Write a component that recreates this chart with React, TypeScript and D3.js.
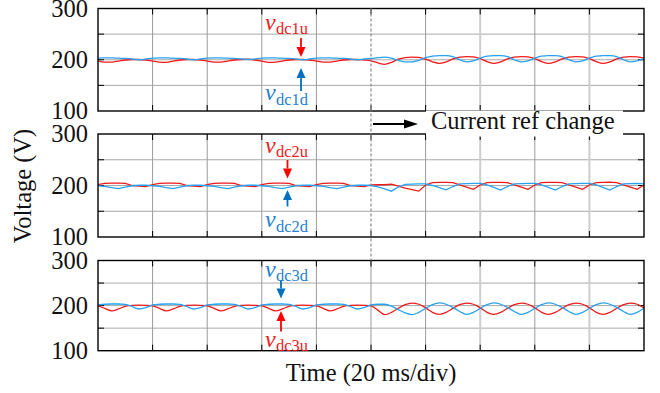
import React from 'react';
import * as d3 from 'd3';

// sample times (ms)
const TIME = [0,2.5,5,7.5,10,12.5,15,17.5,20,22.5,25,27.5,30,32.5,35,37.5,40,42.5,45,47.5,50,52.5,55,57.5,60,62.5,65,67.5,70,72.5,75,77.5,80,82.5,85,87.5,90,92.5,95,97.5,100,102.5,105,107.5,110,112.5,115,117.5,120,122.5,125,127.5,130,132.5,135,137.5,140,142.5,145,147.5,150,152.5,155,157.5,160,162.5,165,167.5,170,172.5,175,177.5,180,182.5,185,187.5,190,192.5,195,197.5,200];

const V_DC1U = [
  198,195.5,195.5,197.5,199.5,200.5,200.5,199.5,
  197.5,195.5,195,197.5,199.5,200.5,200.5,199.5,
  197.5,195.5,195.5,197.5,199.5,200.5,201,199.5,
  197.5,195,195.5,197.5,199.5,200.5,200.5,199.5,
  197.5,195.5,195.5,197.5,199.5,200.5,200.5,199.5,
  198,194,191,195,201,204,205,204.5,
  201,196,193,196,201.5,205,206,205.5,
  202,196.5,193,196,201.5,205,206,205.5,
  202,196.5,193,196,201.5,205,206,205.5,
  202,196.5,193,196,201.5,205,206,205.5,
  203];
const V_DC1D = [
  203,203.5,203.5,203,202.5,201.5,200,201.5,
  203,203.5,203.5,203,202.5,201.5,200,201.5,
  203,203.5,203.5,203,202.5,201.5,200.5,201.5,
  203,203.5,203.5,203,202.5,201.5,200,201.5,
  203,203.5,203.5,203,202.5,201.5,200,201.5,
  202.5,204,205,203,199,196,196,199,
  204,207,208,208,206,200,196,198,
  203,207,208,208,206,200,196,198,
  203,207,208,208,206,200,196,198,
  203,207,208,208,206,200,196,198,
  202];
const V_DC2U = [
  201.5,204,204.5,204.5,204,200,199,198,
  201.5,204,204.5,204.5,204,200,199,198,
  201.5,204,204.5,204.5,204,200,199,198,
  201.5,204,204.5,204.5,204,200,199,198,
  201.5,204,204.5,204.5,204,200,199,198,
  201,201.5,201.5,202.5,199,195,192,189,
  201,205.5,206,206,205.5,201,197,192.5,
  201,205.5,206,206,205.5,201,197,192.5,
  201,205.5,206,206,205.5,201,197,192.5,
  201,205.5,206,206.5,205.5,201,197,192.5,
  201];
const V_DC2D = [
  199.5,198.5,196,194,197,199.5,200.5,200.5,
  199.5,198.5,196,194,197,199.5,200.5,200.5,
  199.5,198.5,196,194,197,199.5,200.5,200.5,
  199.5,198.5,196,194,197,199.5,200.5,200.5,
  199.5,198.5,196,194,197,199.5,200.5,200.5,
  200,197.5,193.5,189,197,202,202.5,203,
  203,200,196,191.5,198,203,203.5,204,
  204,201,196.5,191,198,203,203.5,204,
  204,201,196.5,191,198,203,203.5,204,
  204,201,196.5,191,198,203,203.5,204,
  203];
const V_DC3U = [
  199.5,194,188.5,192.5,198.5,200.5,201,200.5,
  199.5,194,188.5,192.5,198.5,200.5,201,200.5,
  199.5,194,188.5,192.5,198.5,200.5,201,200.5,
  199.5,194,188.5,192.5,198.5,200.5,201,200.5,
  199.5,194,188.5,192.5,198.5,200.5,201,200.5,
  199.5,190,180,185,194,202,205.5,203,
  195,185,180.5,185,194,202,205.5,203,
  195,185,180.5,185,194,202,205.5,203,
  195,185,180.5,185,194,202,205.5,203,
  195,185,180.5,185,194,202,205.5,203,
  195];
const V_DC3D = [
  201.5,203,203.5,203.5,202.5,198,192.5,195.5,
  201.5,203,203.5,203.5,202.5,198,192.5,195.5,
  201.5,203,203.5,203.5,202.5,198,192.5,195.5,
  201.5,203,203.5,203.5,202.5,198,192.5,195.5,
  201.5,203,203.5,203.5,202.5,198,192.5,195.5,
  201.5,203,203,199,191,184,180,185,
  194,202,206,203,196,187,180.5,185,
  194,202,206,203,196,187,180.5,185,
  194,202,206,203,196,187,180.5,185,
  194,202,206,203,196,187,180.5,185,
  194];

const Y_TICKS = [100, 200, 300];
const Y_GRID = [150, 200, 250];
const T_GRID = [20, 40, 60, 80, 100, 120, 140, 160, 180];
const T_CHANGE = 100;

const RED = '#f01a1a';
const BLUE_LINE = '#27a2f0';
const BLUE_TXT = '#1f7fd0';
const FONT = '"Liberation Serif", "Times New Roman", serif';
const FS = 24.5;

type Lbl = { text: string; sub: string; color: string; arrow: string; vBase: number; subBase: number; ax: number; tail: number; tip: number };

const PANELS = [
  { top: 8.5, bottom: 111, red: V_DC1U, blue: V_DC1D, linear: false,
    labels: [
      { text: 'v', sub: 'dc1u', color: RED, arrow: '#ff0000', vBase: 30, subBase: 34, ax: 301, tail: 38, tip: 57 },
      { text: 'v', sub: 'dc1d', color: BLUE_TXT, arrow: '#0070c0', vBase: 100, subBase: 104.5, ax: 301, tail: 91, tip: 68 },
    ] as Lbl[] },
  { top: 134, bottom: 237, red: V_DC2U, blue: V_DC2D, linear: true,
    labels: [
      { text: 'v', sub: 'dc2u', color: RED, arrow: '#ff0000', vBase: 153, subBase: 157, ax: 287.5, tail: 160, tip: 178.5 },
      { text: 'v', sub: 'dc2d', color: BLUE_TXT, arrow: '#0070c0', vBase: 227, subBase: 231.5, ax: 287.5, tail: 206.5, tip: 190 },
    ] as Lbl[] },
  { top: 260.5, bottom: 350.7, red: V_DC3U, blue: V_DC3D, linear: false,
    labels: [
      { text: 'v', sub: 'dc3d', color: BLUE_TXT, arrow: '#0070c0', vBase: 277, subBase: 281, ax: 281, tail: 280.5, tip: 298.5 },
      { text: 'v', sub: 'dc3u', color: RED, arrow: '#ff0000', vBase: 346.5, subBase: 350.5, ax: 281, tail: 331.5, tip: 311 },
    ] as Lbl[] },
];

function Arrow({ x, tail, tip, color }: { x: number; tail: number; tip: number; color: string }) {
  const dir = tip > tail ? 1 : -1;
  const headLen = 10;
  const hw = 4.5;
  const base = tip - dir * headLen;
  return (
    <g>
      <line x1={x} y1={tail} x2={x} y2={base} stroke={color} strokeWidth={1.8} />
      <path d={`M${x - hw},${base}L${x + hw},${base}L${x},${tip}Z`} fill={color} />
    </g>
  );
}

export default function App() {
  const W = 660, H = 393;
  const L = 98, R = 644;
  const x = d3.scaleLinear().domain([0, 200]).range([L, R]);

  return (
    <svg width={W} height={H} style={{ position: 'absolute', left: 0, top: 0, background: '#fff' }} fontFamily={FONT}>
      <rect x={0} y={0} width={W} height={H} fill="#fff" />
      {PANELS.map((p, pi) => {
        const y = d3.scaleLinear().domain([100, 300]).range([p.bottom, p.top]);
        const line = d3.line<number>()
          .x((_, i) => x(TIME[i]))
          .y((d) => y(d))
          .curve(p.linear ? d3.curveLinear : d3.curveMonotoneX);
        return (
          <g key={pi}>
            {Y_GRID.map((v) => (
              <line key={'h' + v} x1={L} x2={R} y1={y(v)} y2={y(v)} stroke="#a8a8a8" strokeWidth={1} />
            ))}
            {T_GRID.map((t, i) => {
              if (t === T_CHANGE && pi < 2) return null;
              const light = i === 6 || i === 8;
              return (
                <line key={'v' + t} x1={x(t)} x2={x(t)} y1={p.top} y2={p.bottom}
                  stroke={light ? '#cdcdcd' : '#9a9a9a'} strokeWidth={light ? 2 : 1} />
              );
            })}
            {T_GRID.map((t) => (
              <g key={'tk' + t}>
                <line x1={x(t)} x2={x(t)} y1={p.top} y2={p.top + 6} stroke="#000" strokeWidth={1} />
                <line x1={x(t)} x2={x(t)} y1={p.bottom} y2={p.bottom - 6} stroke="#000" strokeWidth={1} />
              </g>
            ))}
            {Y_GRID.map((v) => (
              <g key={'tky' + v}>
                <line x1={L} x2={L + 6} y1={y(v)} y2={y(v)} stroke="#000" strokeWidth={1} />
                <line x1={R} x2={R - 6} y1={y(v)} y2={y(v)} stroke="#000" strokeWidth={1} />
              </g>
            ))}
            <path d={line(p.red) || ''} fill="none" stroke={RED} strokeWidth={1.3} />
            <path d={line(p.blue) || ''} fill="none" stroke={BLUE_LINE} strokeWidth={1.3} />
            <rect x={L} y={p.top} width={R - L} height={p.bottom - p.top} fill="none" stroke="#000" strokeWidth={1.4} />
            {Y_TICKS.map((v) => (
              <text key={'yl' + v} x={88} y={y(v)} dy="0.33em" textAnchor="end" fontSize={FS} fill="#111">{v}</text>
            ))}
            {p.labels.map((lb, li) => (
              <g key={'lb' + li}>
                <text x={265} y={lb.vBase} fill={lb.color} fontSize={24} fontStyle="italic">{lb.text}</text>
                <text x={276} y={lb.subBase} fill={lb.color} fontSize={16.5}>{lb.sub}</text>
                <Arrow x={lb.ax} tail={lb.tail} tip={lb.tip} color={lb.arrow} />
              </g>
            ))}
          </g>
        );
      })}
      {/* change marker */}
      <line x1={x(T_CHANGE)} x2={x(T_CHANGE)} y1={8.5} y2={260.5} stroke="#8a8a8a" strokeWidth={1.2} strokeDasharray="3,2" />
      <rect x={426} y={110.5} width={197} height={26} fill="#fff" />
      <line x1={373} x2={406} y1={124} y2={124} stroke="#000" strokeWidth={1.8} />
      <path d="M404,119.5L418,124L404,128.5Z" fill="#000" />
      <text x={431} y={129} fontSize={FS} fill="#111">Current ref change</text>
      <text transform="translate(31,186) rotate(-90)" textAnchor="middle" fontSize={FS} fill="#111">Voltage (V)</text>
      <text x={371} y={381} textAnchor="middle" fontSize={FS} fill="#111">Time (20 ms/div)</text>
    </svg>
  );
}
